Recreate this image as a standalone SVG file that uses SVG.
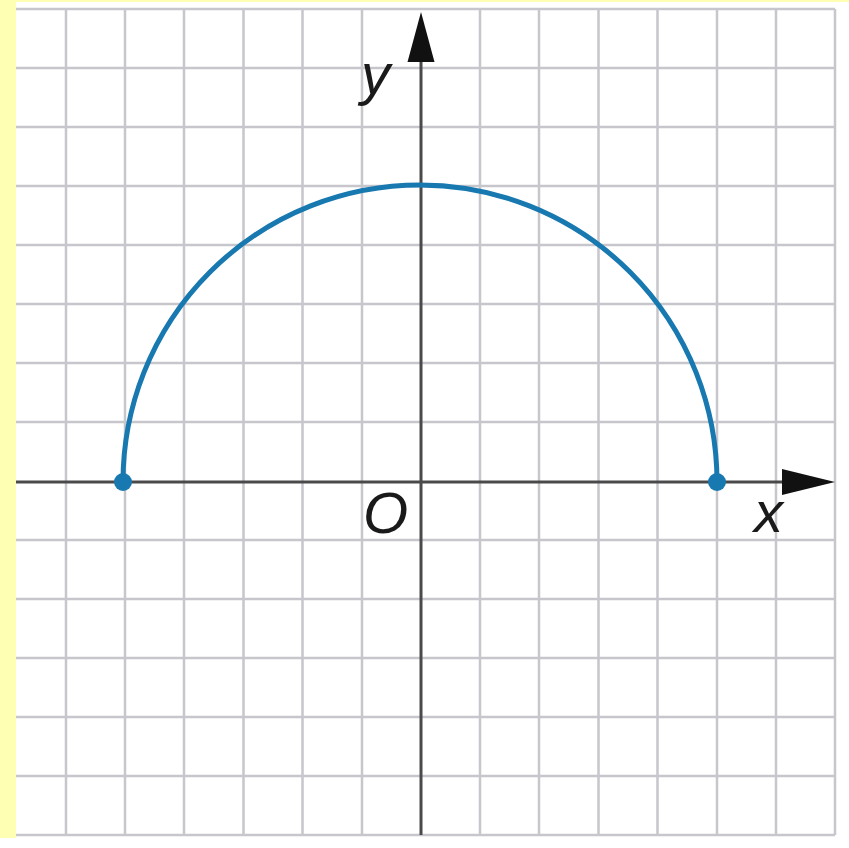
<svg xmlns="http://www.w3.org/2000/svg" width="849" height="848" viewBox="0 0 849 848">
<style>
.grid{stroke:#c6c6cc;stroke-width:2.5;fill:none}
.axis{stroke:#4a4a4a;stroke-width:3;fill:none}
.lbl{font-family:"Liberation Sans",Arial,sans-serif;font-style:italic;font-size:58px;fill:#1a1a1a}
.curve{stroke:#1878b0;stroke-width:5;fill:none}
.dot{fill:#1878b0}
</style>
<defs>
<marker id="arrUp" viewBox="0 0 27 50" refX="13.5" refY="0" markerWidth="27" markerHeight="50" markerUnits="userSpaceOnUse" orient="auto-start-reverse">
<path d="M0,50 L13.5,0 L27,50 Z" fill="#111"/>
</marker>
</defs>
<rect x="0" y="0" width="849" height="848" fill="#ffffff"/>
<rect x="0" y="0" width="849" height="2" fill="#ffffb3"/>
<rect x="0" y="0" width="16" height="838" fill="#ffffb3"/>
<g id="grid">
<path class="grid" d="M66,9V835M125,9V835M184,9V835M243.5,9V835M302.5,9V835M362,9V835M480,9V835M539,9V835M598.5,9V835M657.5,9V835M717,9V835M776,9V835M835,9V835"/>
<path class="grid" d="M16,9H835M16,68H835M16,127H835M16,186H835M16,245H835M16,304H835M16,363H835M16,422H835M16,540H835M16,599H835M16,658H835M16,717H835M16,776H835M16,835H835"/>
</g>
<g id="axes">
<line class="axis" x1="421" y1="835" x2="421" y2="60"/>
<path d="M421,12 L407.5,62 L434.5,62 Z" fill="#111"/>
<line class="axis" x1="16" y1="482" x2="784" y2="482"/>
<path d="M835,482 L782,469 L782,495 Z" fill="#111"/>
</g>
<g id="curve">
<path class="curve" d="M123,482 A297,297 0 0 1 717,482"/>
<circle class="dot" cx="123" cy="482" r="9"/>
<circle class="dot" cx="717" cy="482" r="9"/>
</g>
<g id="labels">
<text class="lbl" x="361" y="94">y</text>
<text class="lbl" x="363" y="533">O</text>
<text class="lbl" x="754" y="532">x</text>
</g>
</svg>
